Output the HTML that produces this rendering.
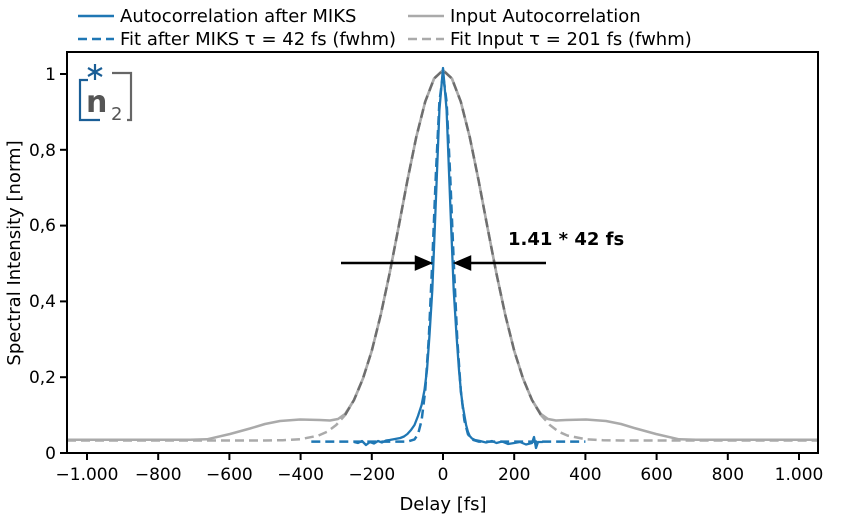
<!DOCTYPE html><html><head><style>body{margin:0;background:#fff}svg{font-family:"DejaVu Sans","Liberation Sans",sans-serif}</style></head><body>
<svg width="848" height="517" xmlns="http://www.w3.org/2000/svg">
<rect width="848" height="517" fill="#fff"/>
<g font-size="18" fill="#000">
<line x1="78" y1="16" x2="114" y2="16" stroke="#1f77b4" stroke-width="2.5"/><text x="120" y="22">Autocorrelation after MIKS</text>
<line x1="78" y1="39" x2="114" y2="39" stroke="#1f77b4" stroke-width="2.5" stroke-dasharray="9,5"/><text x="120" y="45">Fit after MIKS τ = 42 fs (fwhm)</text>
<line x1="408" y1="16" x2="444" y2="16" stroke="#aaa" stroke-width="2.5"/><text x="450" y="22">Input Autocorrelation</text>
<line x1="408" y1="39" x2="444" y2="39" stroke="#aaa" stroke-width="2.5" stroke-dasharray="9,5"/><text x="450" y="45">Fit Input τ = 201 fs (fwhm)</text>
</g>
<g fill="none" stroke-width="2.5" stroke-linejoin="round">
<!-- gray input solid -->
<path stroke="#aaa" d="M67,439.7 L190,439.7 L207,439.3 L230,434 L250,428.5 L265,424 L280,421 L300,419.5 L320,420 L330,420.5 L338,419 L345,414 L354,400 L362.9,378.7 L371.8,350.7 L380.7,315 L389.6,273.4 L398.5,227.5 L407.4,180.5 L416.3,136.9 L425.2,101.7 L434.1,78.5 L443,70.2 L451.9,78.5 L460.8,101.7 L469.7,136.9 L478.6,180.5 L487.5,227.5 L496.4,273.4 L505.3,315 L514.2,350.7 L523.1,378.7 L532,400 L541,414 L548,419 L556,420.5 L566,420 L586,419.5 L606,421 L621,424 L636,428.5 L656,434 L679,439.3 L696,439.7 L818,439.7"/>
<!-- gray fit dashed -->
<path stroke="#aaa" stroke-dasharray="9,5" d="M67,440.5 L265,440.5 L282.8,440.2 L300.6,439.2 L318.4,435.6 L327.3,431.7 L336.2,425 L345.1,415 L354,400 L362.9,378.7 L371.8,350.7 L380.7,315 L389.6,273.4 L398.5,227.5 L407.4,180.5 L416.3,136.9 L425.2,101.7 L434.1,78.5 L443,70.2 L451.9,78.5 L460.8,101.7 L469.7,136.9 L478.6,180.5 L487.5,227.5 L496.4,273.4 L505.3,315 L514.2,350.7 L523.1,378.7 L532,400 L540.9,415 L549.8,425 L558.7,431.7 L567.6,435.6 L585.4,439.2 L603.2,440.2 L621,440.5 L818,440.5"/>
<path stroke="#6e6e6e" stroke-dasharray="9,5" d="M345.1,415 L354,400 L362.9,378.7 L371.8,350.7 L380.7,315 L389.6,273.4 L398.5,227.5 L407.4,180.5 L416.3,136.9 L425.2,101.7 L434.1,78.5 L443,70.2 L451.9,78.5 L460.8,101.7 L469.7,136.9 L478.6,180.5 L487.5,227.5 L496.4,273.4 L505.3,315 L514.2,350.7 L523.1,378.7 L532,400 L540.9,415"/>
<!-- blue fit dashed -->
<path stroke="#1f77b4" stroke-dasharray="9,5" d="M311.3,441.6 L407.4,441.6 L414.5,439.4 L418.1,434 L421.6,420.4 L425.2,390.8 L428.8,338.2 L432.3,261.2 L435.9,173.7 L439.4,102 L443,74 L446.6,102 L450.1,173.7 L453.7,261.2 L457.2,338.2 L460.8,390.8 L464.4,420.4 L467.9,434 L471.5,439.4 L478.6,441.6 L585.4,441.6"/>
<!-- blue solid -->
<path stroke="#1f77b4" stroke-width="2.3" d="M354,442 L358,443 L362,441 L366,445 L370,442 L374,443.5 L378,441 L382,442.5 L386,440.5 L389.6,440 L395,439 L400.3,438 L404,436.5 L407.4,434 L411,430 L414.5,425 L418,416 L421.6,405 L424.5,390 L427,370 L429.5,335 L432.3,290 L435.9,200 L439.4,110 L443,68 L446.6,110 L450.1,200 L453.7,290 L456.5,335 L459,370 L461,392 L462.6,405 L464.5,416 L466.1,425 L468,432 L469.7,436 L472,438.5 L475,440 L480,441 L486,442.5 L492,441 L496.4,443 L502,441.5 L508,444 L514.2,443 L520,442 L526,444.5 L532,443 L534,437 L536,448 L538,442 L542.7,442"/>
</g>
<rect x="67" y="52" width="751" height="401" fill="none" stroke="#000" stroke-width="2"/>
<g stroke="#000" stroke-width="2">
<line x1="87" y1="453" x2="87" y2="460"/><line x1="158.2" y1="453" x2="158.2" y2="460"/><line x1="229.4" y1="453" x2="229.4" y2="460"/><line x1="300.6" y1="453" x2="300.6" y2="460"/><line x1="371.8" y1="453" x2="371.8" y2="460"/><line x1="443" y1="453" x2="443" y2="460"/><line x1="514.2" y1="453" x2="514.2" y2="460"/><line x1="585.4" y1="453" x2="585.4" y2="460"/><line x1="656.6" y1="453" x2="656.6" y2="460"/><line x1="727.8" y1="453" x2="727.8" y2="460"/><line x1="799" y1="453" x2="799" y2="460"/>
<line x1="60" y1="453" x2="67" y2="453"/><line x1="60" y1="377.2" x2="67" y2="377.2"/><line x1="60" y1="301.4" x2="67" y2="301.4"/><line x1="60" y1="225.6" x2="67" y2="225.6"/><line x1="60" y1="149.8" x2="67" y2="149.8"/><line x1="60" y1="74" x2="67" y2="74"/>
</g>
<g font-size="17" fill="#000" text-anchor="middle">
<text x="87" y="480">−1.000</text><text x="158.2" y="480">−800</text><text x="229.4" y="480">−600</text><text x="300.6" y="480">−400</text><text x="371.8" y="480">−200</text><text x="443" y="480">0</text><text x="514.2" y="480">200</text><text x="585.4" y="480">400</text><text x="656.6" y="480">600</text><text x="727.8" y="480">800</text><text x="799" y="480">1.000</text>
</g>
<g font-size="17" fill="#000" text-anchor="end">
<text x="56" y="459">0</text><text x="56" y="383">0,2</text><text x="56" y="307">0,4</text><text x="56" y="231">0,6</text><text x="56" y="156">0,8</text><text x="56" y="80">1</text>
</g>
<text x="443" y="510" font-size="18" text-anchor="middle">Delay [fs]</text>
<text transform="translate(20,253) rotate(-90)" font-size="18" text-anchor="middle">Spectral Intensity [norm]</text>
<g stroke="#1a5e96" stroke-width="2.2" fill="none">
<polyline points="88,80 80,80 80,120 100,120"/>
<line x1="95" y1="64" x2="95" y2="80"/><line x1="88" y1="68" x2="102" y2="76"/><line x1="88" y1="76" x2="102" y2="68"/>
</g>
<polyline points="112,73 131,73 131,120 127,120" stroke="#666" stroke-width="2.2" fill="none"/>
<text x="86" y="112" font-size="30" font-weight="bold" fill="#555">n</text>
<text x="111" y="120" font-size="18" fill="#555">2</text>
<g stroke="#000" stroke-width="2.5" fill="#000">
<line x1="341" y1="263" x2="418" y2="263"/><polygon points="430,263 416,257 416,269"/>
<line x1="546" y1="263" x2="468" y2="263"/><polygon points="456,263 470,257 470,269"/>
</g>
<text x="508" y="245" font-size="18" font-weight="bold">1.41 * 42 fs</text>
</svg></body></html>
